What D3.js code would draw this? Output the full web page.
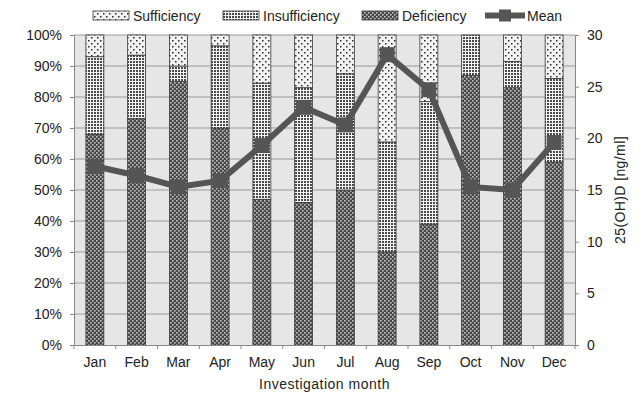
<!DOCTYPE html>
<html><head><meta charset="utf-8">
<script src="https://cdn.jsdelivr.net/npm/d3@7"></script>
<style>
html,body{margin:0;padding:0;background:#fff;}
svg{display:block;font-family:"Liberation Sans",Arial,Helvetica,sans-serif;}
</style></head>
<body>
<svg id="chart" width="640" height="397"></svg>
<script>
const months = ["Jan","Feb","Mar","Apr","May","Jun","Jul","Aug","Sep","Oct","Nov","Dec"];
const deficiency    = [68, 73, 85, 70, 47, 46, 50, 30, 39, 87, 83, 59];
const insufficiency = [25, 20.5, 5, 26.5, 37.5, 37, 37.5, 35.5, 39.5, 13, 8.5, 27];
const sufficiency   = [7, 6.5, 10, 3.5, 15.5, 17, 12.5, 34.5, 21.5, 0, 8.5, 14];
const meanValues    = [17.3, 16.4, 15.3, 15.9, 19.3, 23.0, 21.3, 28.1, 24.7, 15.3, 15.0, 19.6];
const leftTicks  = [0,10,20,30,40,50,60,70,80,90,100];
const rightTicks = [0,5,10,15,20,25,30];
const seriesNames = ["Deficiency","Insufficiency","Sufficiency"];

const svg = d3.select("#chart");
const m = {left:74, right:575, top:35, bottom:345};

const defs = svg.append("defs");
// Deficiency: dark crosshatch
const pd = defs.append("pattern").attr("id","pDef").attr("patternUnits","userSpaceOnUse").attr("width",4).attr("height",4);
pd.append("rect").attr("width",4).attr("height",4).attr("fill","#474747");
pd.append("rect").attr("x",0).attr("y",0).attr("width",1.6).attr("height",1.6).attr("fill","#c4c4c4");
pd.append("rect").attr("x",2).attr("y",2).attr("width",1.6).attr("height",1.6).attr("fill","#c4c4c4");
// Insufficiency: dense dark dots on light
const pi = defs.append("pattern").attr("id","pIns").attr("patternUnits","userSpaceOnUse").attr("width",3).attr("height",3);
pi.append("rect").attr("width",3).attr("height",3).attr("fill","#f4f4f4");
pi.append("rect").attr("x",1).attr("y",1).attr("width",2).attr("height",2).attr("fill","#4a4a4a");
// Sufficiency: sparse dots
const ps = defs.append("pattern").attr("id","pSuf").attr("patternUnits","userSpaceOnUse").attr("width",6).attr("height",6);
ps.append("rect").attr("width",6).attr("height",6).attr("fill","#f2f2f2");
ps.append("rect").attr("x",1).attr("y",1).attr("width",1.5).attr("height",1.5).attr("fill","#2a2a2a");
ps.append("rect").attr("x",4).attr("y",4).attr("width",1.5).attr("height",1.5).attr("fill","#2a2a2a");
const fills = {Deficiency:"url(#pDef)", Insufficiency:"url(#pIns)", Sufficiency:"url(#pSuf)"};

const x = d3.scaleBand().domain(months).range([m.left, m.right]).paddingInner(0.57).paddingOuter(0.285);
const y = d3.scaleLinear().domain([0,100]).range([m.bottom, m.top]);
const y2 = d3.scaleLinear().domain([0,30]).range([m.bottom, m.top]);

// plot background
svg.append("rect").attr("x",m.left).attr("y",m.top).attr("width",m.right-m.left).attr("height",m.bottom-m.top).attr("fill","#e6e6e6");
// gridlines
svg.append("g").selectAll("line").data(leftTicks.filter(d=>d>0)).join("line")
  .attr("x1",m.left).attr("x2",m.right).attr("y1",d=>y(d)).attr("y2",d=>y(d))
  .attr("stroke","#9a9a9a").attr("stroke-width",1);

// stacked bars
const table = months.map((mo,i)=>({month:mo, Deficiency:deficiency[i], Insufficiency:insufficiency[i], Sufficiency:sufficiency[i]}));
const stack = d3.stack().keys(seriesNames)(table);
svg.append("g").selectAll("g").data(stack).join("g")
  .attr("fill", s=>fills[s.key])
  .selectAll("rect").data(s=>s.filter(d=>d[1]-d[0]>0)).join("rect")
  .attr("x", d=>x(d.data.month)).attr("width", x.bandwidth())
  .attr("y", d=>y(d[1])).attr("height", d=>y(d[0])-y(d[1]))
  .attr("stroke","#3a3a3a").attr("stroke-width",0.8);

// axes
const axisColor = "#888";
const gL = svg.append("g").attr("transform",`translate(${m.left},0)`)
  .call(d3.axisLeft(y).tickValues(leftTicks).tickFormat(d=>d+"%").tickSize(4).tickPadding(8));
const gR = svg.append("g").attr("transform",`translate(${m.right},0)`)
  .call(d3.axisRight(y2).tickValues(rightTicks).tickSize(4).tickPadding(8));
const gB = svg.append("g").attr("transform",`translate(0,${m.bottom})`)
  .call(d3.axisBottom(x).tickSize(0).tickPadding(12));
// band-boundary ticks on x axis
svg.append("g").selectAll("line").data(months.concat(["_end"])).join("line")
  .attr("x1",(d,i)=> i<months.length ? x(d)-x.step()*x.paddingInner()/2 : m.right)
  .attr("x2",(d,i)=> i<months.length ? x(d)-x.step()*x.paddingInner()/2 : m.right)
  .attr("y1",m.bottom).attr("y2",m.bottom+4).attr("stroke",axisColor);
[gL,gR,gB].forEach(g=>{
  g.selectAll(".domain").attr("stroke",axisColor);
  g.selectAll(".tick line").attr("stroke",axisColor);
  g.selectAll("text").attr("font-size",14).attr("fill","#222").attr("font-family","'Liberation Sans',Arial,sans-serif");
});
gB.select(".domain").attr("d",`M${m.left},0.5H${m.right}`);

// mean line
const line = d3.line().x((d,i)=>x(months[i])+x.bandwidth()/2).y(d=>y2(d));
svg.append("path").datum(meanValues).attr("d",line).attr("fill","none")
  .attr("stroke","#555").attr("stroke-width",6).attr("stroke-linejoin","miter");
const ms = 15;
svg.append("g").selectAll("rect").data(meanValues).join("rect")
  .attr("x",(d,i)=>x(months[i])+x.bandwidth()/2-ms/2).attr("y",d=>y2(d)-ms/2)
  .attr("width",ms).attr("height",ms).attr("fill","#555");

// axis titles
svg.append("text").attr("x",(m.left+m.right)/2).attr("y",389).attr("text-anchor","middle")
  .attr("font-size",14).attr("fill","#222").style("letter-spacing","0.5px").text("Investigation month");
svg.append("text").attr("transform",`translate(625,${(m.top+m.bottom)/2}) rotate(-90)`)
  .attr("text-anchor","middle").attr("font-size",14).attr("fill","#222").style("letter-spacing","0.4px").text("25(OH)D [ng/ml]");

// legend
const lg = svg.append("g");
const legendItems = [
  {name:"Sufficiency", x:93},
  {name:"Insufficiency", x:223},
  {name:"Deficiency", x:362}
];
legendItems.forEach(it=>{
  lg.append("rect").attr("x",it.x).attr("y",11).attr("width",36).attr("height",9)
    .attr("fill",fills[it.name]).attr("stroke","#3a3a3a").attr("stroke-width",0.8);
  lg.append("text").attr("x",it.x+40).attr("y",20.5).attr("font-size",14).attr("fill","#222").text(it.name);
});
lg.append("line").attr("x1",485).attr("x2",525).attr("y1",15.5).attr("y2",15.5).attr("stroke","#555").attr("stroke-width",6);
lg.append("rect").attr("x",499).attr("y",9.5).attr("width",12).attr("height",12).attr("fill","#555");
lg.append("text").attr("x",527).attr("y",20.5).attr("font-size",14).attr("fill","#222").text("Mean");
</script>
</body></html>
